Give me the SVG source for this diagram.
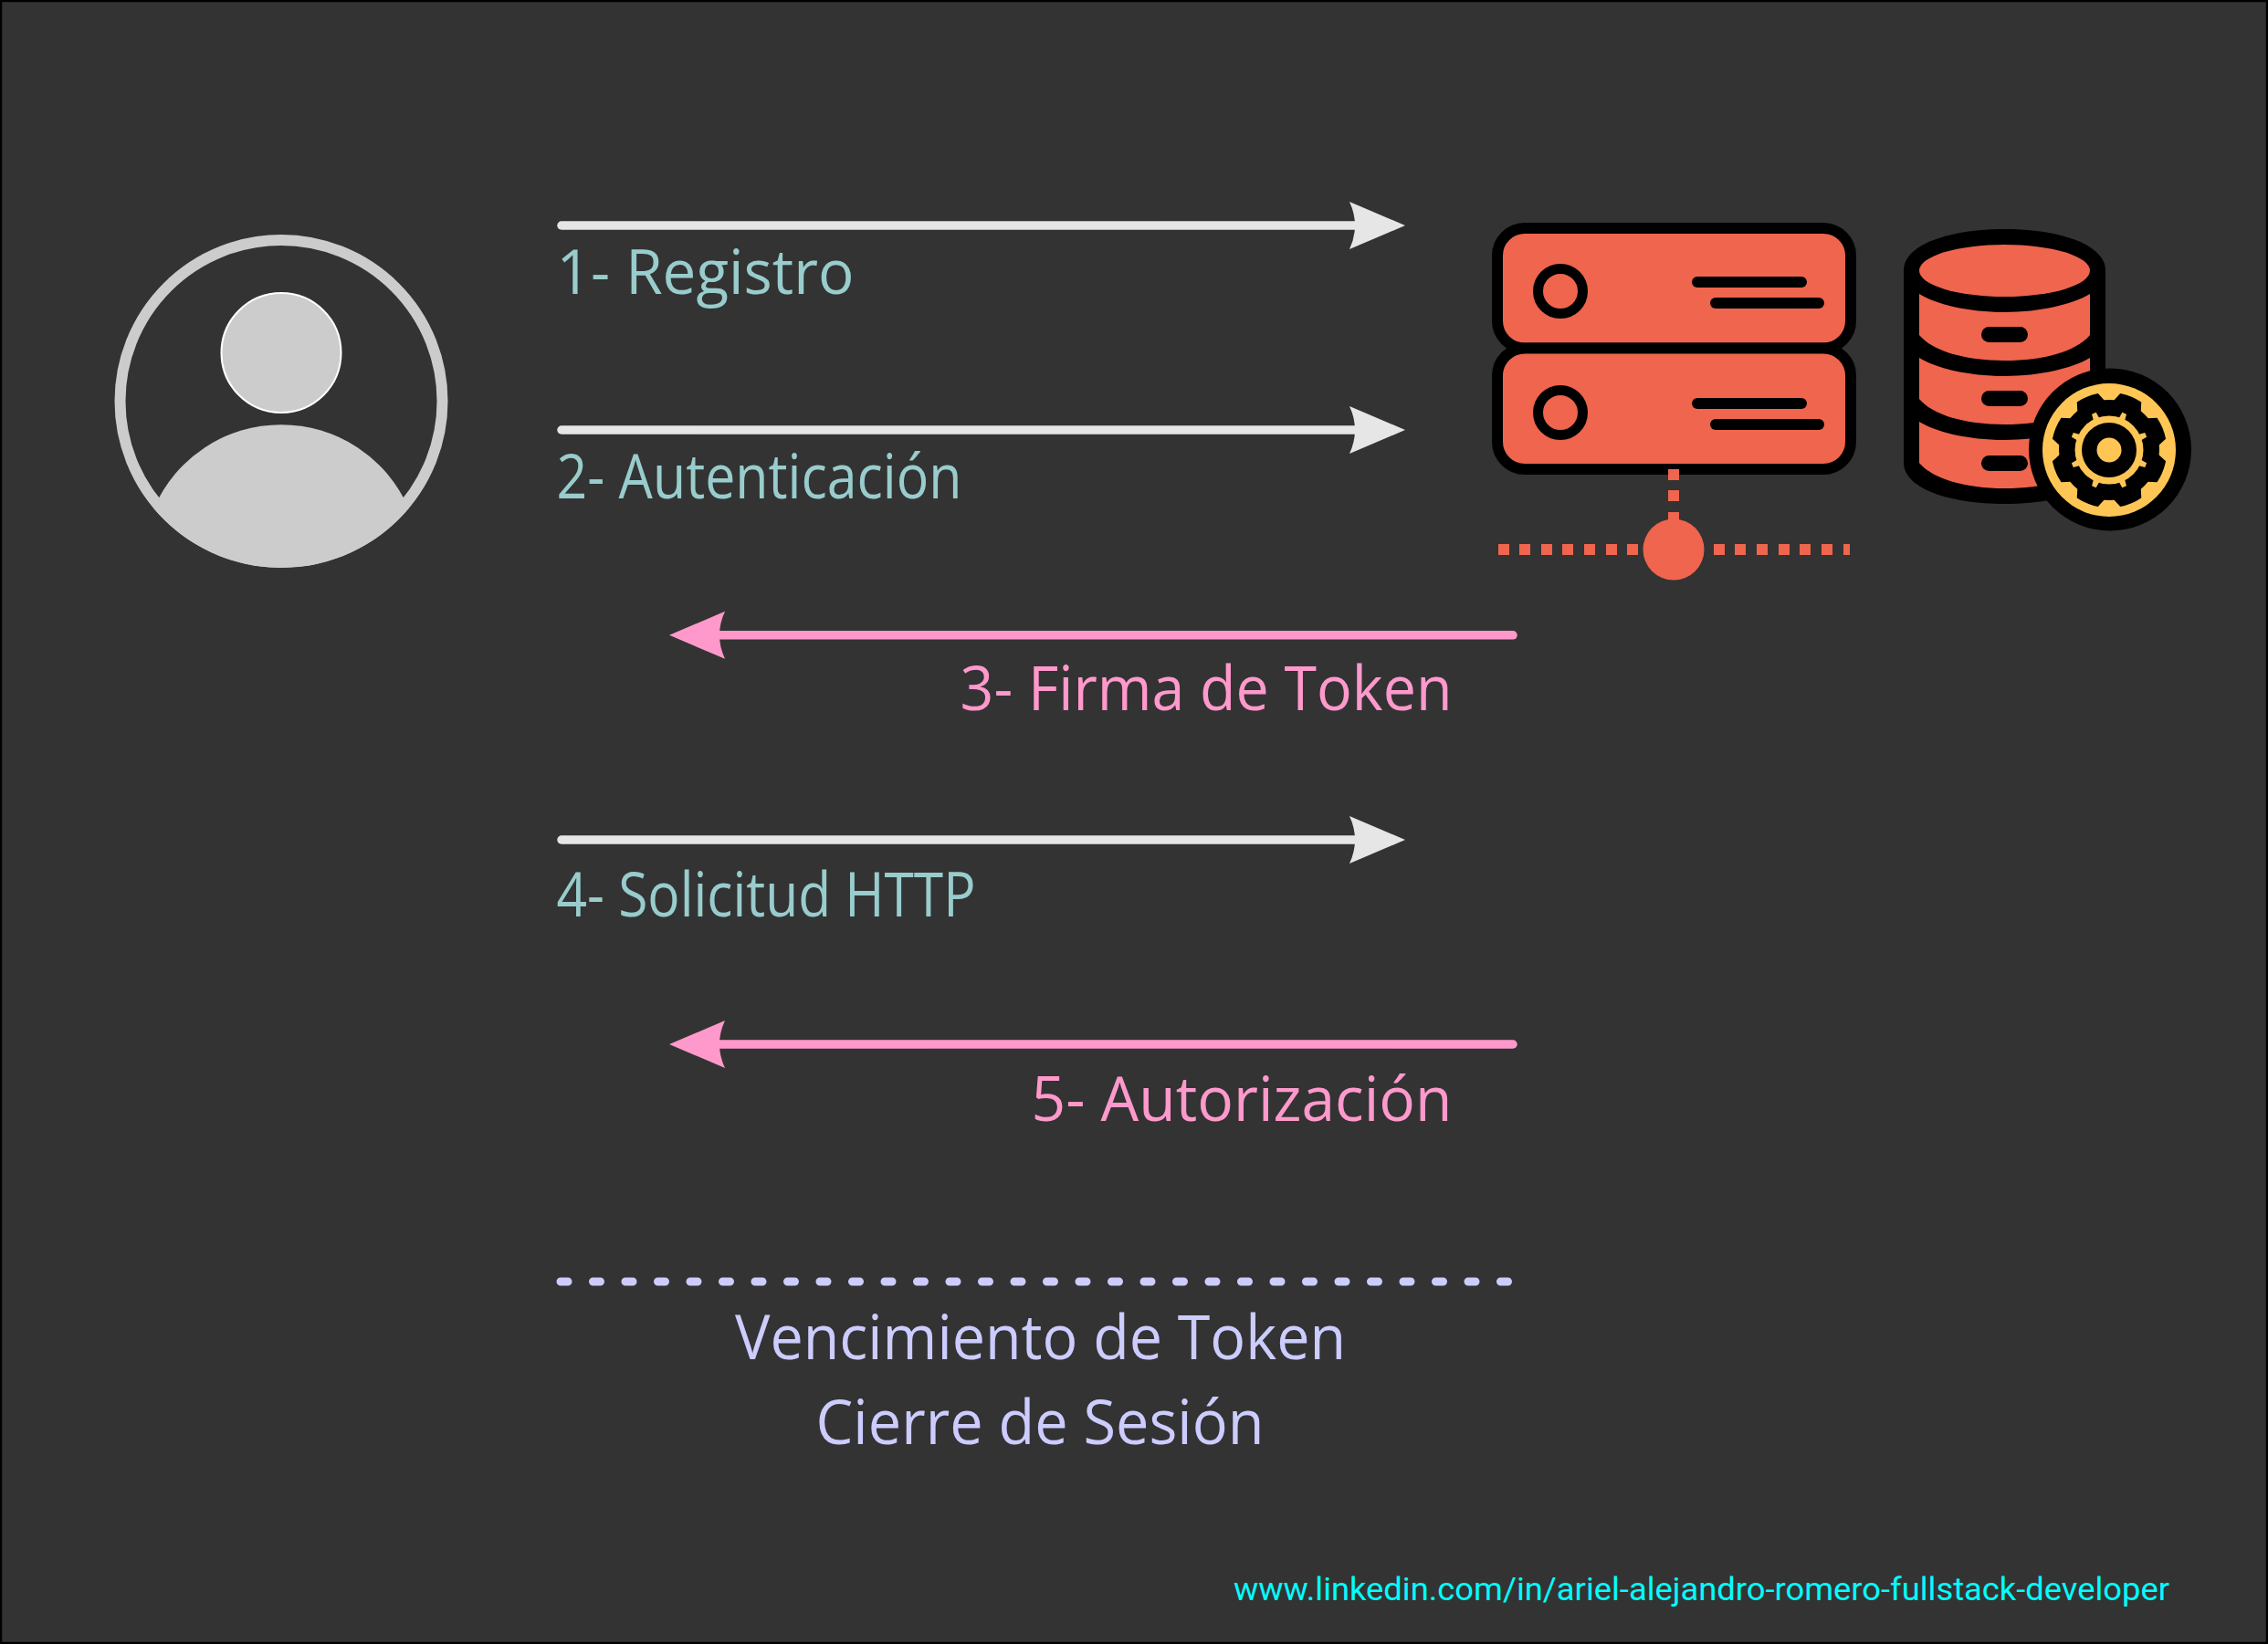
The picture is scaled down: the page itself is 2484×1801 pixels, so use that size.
<svg xmlns="http://www.w3.org/2000/svg" xmlns:xlink="http://www.w3.org/1999/xlink" width="2484" height="1801" viewBox="0 0 2484 1801">
<style>
.lbl{font-family:"Open Sans","Noto Sans",sans-serif;font-size:67px}
.teal{fill:#99cccc}.pink{fill:#ff99cc}.lav{fill:#ccccff}
.url{font-family:Roboto,"DejaVu Sans",sans-serif;font-size:35px;fill:#00ffff}
.shaft{stroke-width:9.5;stroke-linecap:round;fill:none}
.blk{fill:#000}.org{fill:#ef654d}.yel{fill:#ffc655}
.srv{fill:#ef654d;stroke:#000;stroke-width:12}
.ring{fill:#ef654d;stroke:#000;stroke-width:11}
.dash{fill:#ef654d}
</style>
<defs>
<path id="headR" d="M0 -26L61 0L0 26Q12 0 0 -26Z"/>
<path id="tooth" d="M-16 -52L-12.500 -62A63.500 63.500 0 0 1 12.500 -62L16 -52Z" fill="#000"/>
<path id="spike" d="M-3.500 -36L-2.500 -43.500L2.500 -43.500L3.500 -36Z" fill="#ffc655"/>
</defs>
<rect x="1" y="1" width="2482" height="1799" fill="#333333" stroke="#000" stroke-width="2.500"/>
<g id="user">
<circle cx="308" cy="439.500" r="176.500" fill="none" stroke="#cccccc" stroke-width="12"/>
<circle cx="308" cy="386.500" r="65.500" fill="#cccccc" stroke="#ffffff" stroke-width="2"/>
<path d="M168.400 557A152 152 0 0 1 447.600 557A182.500 182.500 0 0 1 168.400 557Z" fill="#cccccc"/>
</g>
<g id="server">
<rect class="srv" x="1640" y="250" width="387" height="131.500" rx="30"/>
<rect class="srv" x="1640" y="381.500" width="387" height="132.500" rx="30"/>
<ellipse class="ring" cx="1709" cy="319" rx="24.500" ry="24.500"/>
<ellipse class="ring" cx="1709" cy="452" rx="24.500" ry="24.500"/>
<g class="blk">
<rect x="1853" y="303" width="126" height="12" rx="6"/>
<rect x="1873" y="326" width="125" height="12" rx="6"/>
<rect x="1853" y="436" width="126" height="12" rx="6"/>
<rect x="1873" y="459" width="125" height="12" rx="6"/>
</g>
<g class="dash">
<rect x="1827" y="514" width="12" height="12"/>
<rect x="1827" y="537" width="12" height="12"/>
<rect x="1827" y="561" width="12" height="12"/>
<circle cx="1833" cy="602" r="33.500"/>
<rect x="1641" y="596" width="12" height="12"/>
<rect x="1664" y="596" width="12" height="12"/>
<rect x="1688" y="596" width="12" height="12"/>
<rect x="1711" y="596" width="12" height="12"/>
<rect x="1735" y="596" width="12" height="12"/>
<rect x="1759" y="596" width="12" height="12"/>
<rect x="1782" y="596" width="12" height="12"/>
<rect x="1877" y="596" width="12" height="12"/>
<rect x="1900" y="596" width="12" height="12"/>
<rect x="1924" y="596" width="12" height="12"/>
<rect x="1948" y="596" width="12" height="12"/>
<rect x="1971" y="596" width="12" height="12"/>
<rect x="1995" y="596" width="12" height="12"/>
<rect x="2019" y="596" width="7" height="12"/>
</g>
</g>
<g id="database">
<path class="blk" d="M2085 296C2085 268 2135 251 2195.500 251C2256 251 2306 268 2306 296L2306 507C2306 535 2256 552 2195.500 552C2135 552 2085 535 2085 507Z"/>
<ellipse class="org" cx="2195.500" cy="296.500" rx="93.500" ry="28.500"/>
<path class="org" d="M2102 322C2120 333 2155 342 2195.500 342C2236 342 2271 333 2289 322L2289 367C2275 384 2240 395 2195.500 395C2151 395 2116 384 2102 367Z"/>
<path class="org" d="M2102 392C2120 403 2155 412 2195.500 412C2236 412 2271 403 2289 392L2289 437C2275 454 2240 465 2195.500 465C2151 465 2116 454 2102 437Z"/>
<path class="org" d="M2102 462C2120 473 2155 482 2195.500 482C2236 482 2271 473 2289 462L2289 507C2275 524 2240 535 2195.500 535C2151 535 2116 524 2102 507Z"/>
<g class="blk">
<rect x="2170" y="358" width="51" height="17" rx="8.500"/>
<rect x="2170" y="428" width="51" height="17" rx="8.500"/>
<rect x="2170" y="499" width="51" height="17" rx="8.500"/>
</g>
<circle class="blk" cx="2311" cy="492.500" r="89"/>
<circle class="yel" cx="2310" cy="493" r="73"/>
<g transform="translate(2310 493)">
<circle class="blk" r="55"/>
<use xlink:href="#tooth" href="#tooth" transform="rotate(22.500)"/>
<use xlink:href="#tooth" href="#tooth" transform="rotate(67.500)"/>
<use xlink:href="#tooth" href="#tooth" transform="rotate(112.500)"/>
<use xlink:href="#tooth" href="#tooth" transform="rotate(157.500)"/>
<use xlink:href="#tooth" href="#tooth" transform="rotate(202.500)"/>
<use xlink:href="#tooth" href="#tooth" transform="rotate(247.500)"/>
<use xlink:href="#tooth" href="#tooth" transform="rotate(292.500)"/>
<use xlink:href="#tooth" href="#tooth" transform="rotate(337.500)"/>
<circle class="yel" r="37.500"/>
<use xlink:href="#spike" href="#spike" transform="rotate(22.500)"/>
<use xlink:href="#spike" href="#spike" transform="rotate(67.500)"/>
<use xlink:href="#spike" href="#spike" transform="rotate(112.500)"/>
<use xlink:href="#spike" href="#spike" transform="rotate(157.500)"/>
<use xlink:href="#spike" href="#spike" transform="rotate(202.500)"/>
<use xlink:href="#spike" href="#spike" transform="rotate(247.500)"/>
<use xlink:href="#spike" href="#spike" transform="rotate(292.500)"/>
<use xlink:href="#spike" href="#spike" transform="rotate(337.500)"/>
<circle class="blk" r="30"/>
<circle class="yel" r="13.500"/>
</g>
</g>
<g id="connectors">
<g stroke="#e6e6e6" class="shaft">
<path d="M615 247H1484"/>
<path d="M615 471H1484"/>
<path d="M615 920H1484"/>
</g>
<g fill="#e6e6e6">
<use xlink:href="#headR" href="#headR" transform="translate(1478 247)"/>
<use xlink:href="#headR" href="#headR" transform="translate(1478 471)"/>
<use xlink:href="#headR" href="#headR" transform="translate(1478 920)"/>
</g>
<g stroke="#ff99cc" class="shaft">
<path d="M788 695.800H1657"/>
<path d="M788 1144H1657"/>
</g>
<g fill="#ff99cc">
<use xlink:href="#headR" href="#headR" transform="translate(794 695.800) scale(-1 1)"/>
<use xlink:href="#headR" href="#headR" transform="translate(794 1144) scale(-1 1)"/>
</g>
<path d="M614 1404H1652" fill="none" stroke="#ccccff" stroke-width="9" stroke-linecap="round" stroke-dasharray="8 27.500"/>
</g>
<g id="labels">
<text class="lbl teal" x="609.500" y="322" textLength="326" lengthAdjust="spacingAndGlyphs">1- Registro</text>
<text class="lbl teal" x="609.500" y="546" textLength="444" lengthAdjust="spacingAndGlyphs">2- Autenticación</text>
<text class="lbl pink" x="1051.500" y="778" textLength="539" lengthAdjust="spacingAndGlyphs">3- Firma de Token</text>
<text class="lbl teal" x="609.500" y="1003.500" textLength="459" lengthAdjust="spacingAndGlyphs">4- Solicitud HTTP</text>
<text class="lbl pink" x="1129.500" y="1228" textLength="461" lengthAdjust="spacingAndGlyphs">5- Autorización</text>
<text class="lbl lav" x="805" y="1489" textLength="669" lengthAdjust="spacingAndGlyphs">Vencimiento de Token</text>
<text class="lbl lav" x="893.500" y="1582" textLength="491" lengthAdjust="spacingAndGlyphs">Cierre de Sesión</text>
<text class="url" x="1351" y="1753" textLength="1025" lengthAdjust="spacingAndGlyphs">www.linkedin.com/in/ariel-alejandro-romero-fullstack-developer</text>
</g>
</svg>
